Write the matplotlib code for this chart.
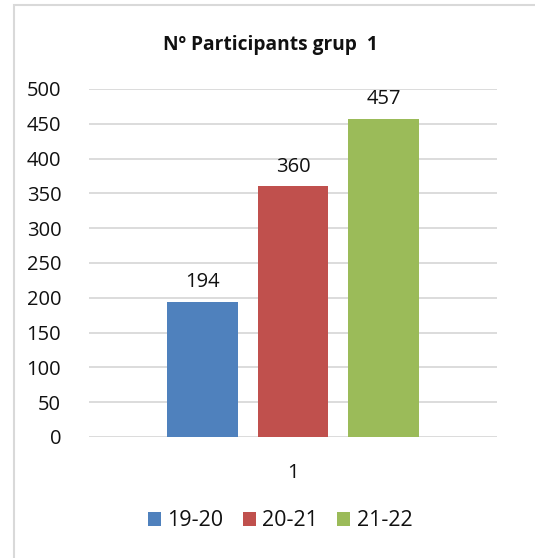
import matplotlib
matplotlib.use("Agg")
import matplotlib.pyplot as plt
from matplotlib.patches import Rectangle

categories = ["1"]
series = ["19-20", "20-21", "21-22"]
values = [194, 360, 457]
colors = ["#4F81BD", "#C0504D", "#9BBB59"]
title = "Nº Participants grup  1"
yticks = [0, 50, 100, 150, 200, 250, 300, 350, 400, 450, 500]

plt.rcParams['font.family'] = ['Open Sans', 'DejaVu Sans']

fig = plt.figure(figsize=(5.35, 5.58), dpi=100)
fig.patch.set_facecolor("white")
# chart border
fig.add_artist(Rectangle((14/535, -0.01), 1.0, 1 - 5/558 + 0.01, transform=fig.transFigure,
                         fill=False, edgecolor="#D9D9D9", linewidth=1.5))

ax = fig.add_axes([89/535, 1 - 437/558, (497 - 89)/535, (437 - 89)/558])
width = 0.174
step = 0.223
offsets = [(i - (len(series) - 1) / 2) * step for i in range(len(series))]
for i, (s, v, c) in enumerate(zip(series, values, colors)):
    b = ax.bar(0 + offsets[i], v, width=width, color=c, label=s, zorder=3)
    ax.bar_label(b, labels=[str(v)], padding=7, fontsize=14.5, color="#111111")

ax.set_xlim(-0.5, 0.5)
ax.set_ylim(0, 500)
ax.set_yticks(yticks)
ax.set_xticks([0])
ax.set_xticklabels(categories)
ax.tick_params(axis="both", length=0, labelsize=14.5, colors="#111111")
ax.tick_params(axis="y", pad=20)
ax.tick_params(axis="x", pad=19)
ax.grid(axis="y", color="#D9D9D9", linewidth=1.3, zorder=0)
for sp in ax.spines.values():
    sp.set_visible(False)

fig.text(270/535, 1 - 45/558, title, ha="center", va="center",
         fontsize=13.8, fontweight="bold", color="#111111")

leg = fig.legend(loc="center", bbox_to_anchor=(280/535, 1 - 521/558), ncol=3, frameon=False,
                 fontsize=15.5, handlelength=0.6, handleheight=0.6, handletextpad=0.3,
                 columnspacing=0.9)
for t in leg.get_texts():
    t.set_color("#111111")

fig.savefig("out.png", dpi=100, facecolor="white")
